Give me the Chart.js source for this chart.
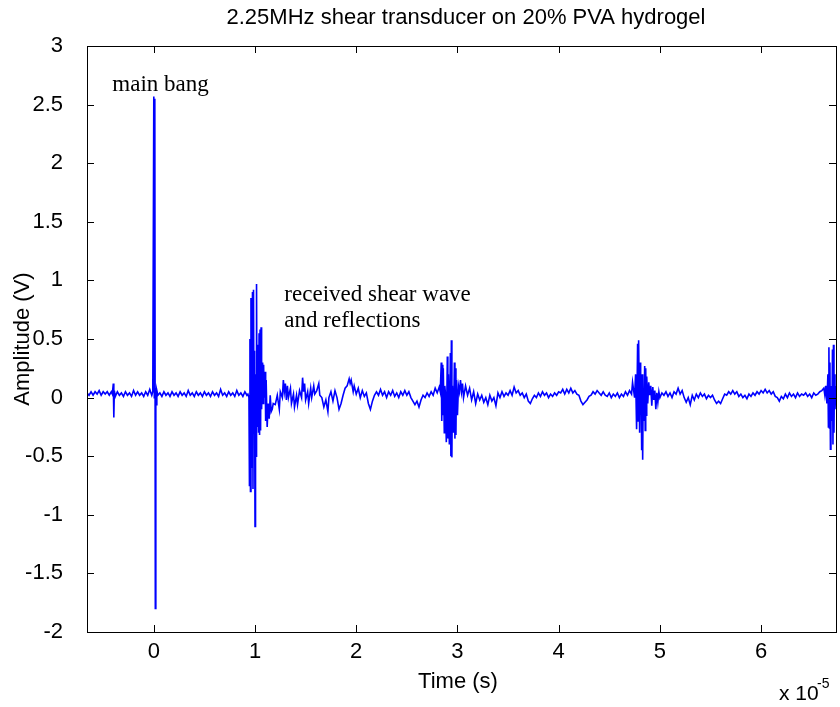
<!DOCTYPE html>
<html>
<head>
<meta charset="utf-8">
<script src="https://cdn.jsdelivr.net/npm/chart.js@4/dist/chart.umd.min.js"></script>
<style>
  body { margin: 0; background: #fff; }
  #chart { display: block; }
</style>
</head>
<body>
<canvas id="chart" width="840" height="707"></canvas>
<script>
// time in units of 1e-5 s, amplitude in V
const preTrigger = [
  [-0.66,0.04],[-0.64,0.02],[-0.62,0.05],[-0.60,0.02],[-0.58,0.05],[-0.56,0.03],[-0.54,0.06],[-0.52,0.02],
  [-0.50,0.05],[-0.48,0.03],[-0.46,0.05],[-0.44,0.02],[-0.42,0.05],[-0.41,0.03],[-0.40,0.12],[-0.395,-0.17],
  [-0.39,0.06],[-0.38,0.01],[-0.36,0.05],[-0.34,0.02],[-0.32,0.04],[-0.30,0.01],[-0.28,0.05],[-0.26,0.02],
  [-0.24,0.04],[-0.22,0.01],[-0.20,0.06],[-0.18,0.02],[-0.16,0.05],[-0.14,0.02],[-0.12,0.04],[-0.10,0.01],
  [-0.08,0.05],[-0.06,0.02],[-0.04,0.07],[-0.02,0.02]
];
const mainBang = [
  [-0.01,0.05],[0.0,2.57],[0.005,0.0],[0.01,2.55],[0.015,-1.8],[0.02,0.08],[0.025,-0.06],[0.03,0.06],[0.04,0.02]
];
const quietA = [
  [0.06,0.04],[0.08,0.01],[0.10,0.05],[0.12,0.02],[0.14,0.04],[0.16,0.01],[0.18,0.05],[0.20,0.02],
  [0.22,0.04],[0.24,0.01],[0.26,0.05],[0.28,0.02],[0.30,0.04],[0.32,0.01],[0.34,0.06],[0.36,0.02],
  [0.38,0.04],[0.40,0.01],[0.42,0.05],[0.44,0.02],[0.46,0.04],[0.48,0.01],[0.50,0.05],[0.52,0.02],
  [0.54,0.04],[0.56,0.01],[0.58,0.05],[0.60,0.02],[0.62,0.04],[0.64,0.01],[0.66,0.07],[0.68,0.02],
  [0.70,0.04],[0.72,0.01],[0.74,0.05],[0.76,0.02],[0.78,0.04],[0.80,0.01],[0.82,0.06],[0.84,0.02],
  [0.86,0.04],[0.88,0.01],[0.90,0.05],[0.92,0.02]
];
const echo1 = [
  [0.93,0.03],[0.94,0.0],[0.945,-0.75],[0.95,0.5],[0.955,-0.8],[0.96,0.85],[0.965,-0.6],[0.975,0.9],
  [0.98,-0.78],[0.985,0.92],[0.99,-0.3],[0.995,0.4],[1.0,-1.1],[1.005,0.2],[1.01,-0.5],[1.015,0.97],
  [1.02,-0.25],[1.03,0.45],[1.035,-0.3],[1.04,0.55],[1.045,-0.32],[1.05,0.58],[1.055,-0.28],[1.06,0.6],
  [1.065,-0.1],[1.075,0.3],[1.08,-0.05],[1.085,0.28],[1.09,0.0],[1.1,0.22],[1.105,-0.2],[1.11,0.15],
  [1.12,-0.25],[1.13,-0.05],[1.14,-0.18],[1.15,0.02],[1.16,-0.12],[1.17,-0.1],[1.18,-0.05]
];
const tail1 = [
  [1.20,-0.06],[1.22,0.02],[1.24,-0.1],[1.25,0.05],[1.27,0.0],[1.28,0.15],[1.29,0.05],[1.30,0.12],
  [1.31,-0.02],[1.32,0.1],[1.33,0.0],[1.35,0.08],[1.36,-0.05],[1.38,0.03],[1.39,-0.08],[1.41,0.02],
  [1.42,-0.06],[1.44,0.06],[1.46,0.0],[1.47,0.17],[1.48,0.05],[1.49,0.12],[1.50,-0.02],[1.52,0.05],
  [1.53,-0.05],[1.55,0.08],[1.56,0.0],[1.58,0.1],[1.59,0.03],[1.61,0.06],[1.63,0.12],[1.64,0.02],
  [1.66,0.0],[1.68,-0.08],[1.70,-0.02],[1.72,-0.12],[1.73,0.0],[1.75,0.05],[1.77,-0.03],[1.79,0.06],
  [1.81,0.0],[1.83,-0.1],[1.85,-0.05],[1.87,0.02],[1.89,0.08],[1.91,0.1],[1.93,0.16],[1.94,0.12],
  [1.95,0.15],[1.97,0.05],[1.98,0.1],[2.00,0.03],[2.02,0.08],[2.04,0.0],[2.06,0.06],[2.08,0.01],
  [2.10,0.04],[2.12,-0.05],[2.14,-0.1],[2.16,-0.03],[2.18,0.02],[2.20,0.05],[2.22,0.02],[2.24,0.07],
  [2.26,0.02],[2.28,0.05],[2.30,0.0],[2.32,0.05],[2.34,0.02],[2.36,0.06],[2.38,0.01],[2.40,0.04],
  [2.42,0.0],[2.44,0.05],[2.46,0.02],[2.48,0.06],[2.50,0.02],[2.52,0.05],[2.54,0.0],[2.56,-0.03],
  [2.58,-0.06],[2.60,-0.03],[2.62,-0.08],[2.64,-0.02],[2.66,0.02],[2.68,0.0],[2.70,0.04],[2.72,0.01],
  [2.74,0.05],[2.76,0.02],[2.78,0.08],[2.80,0.04],[2.82,0.09]
];
const echo2 = [
  [2.83,0.05],[2.84,0.3],[2.845,-0.2],[2.85,0.28],[2.855,-0.15],[2.86,0.25],[2.87,-0.3],[2.875,0.1],
  [2.88,0.05],[2.89,-0.38],[2.90,0.35],[2.905,-0.35],[2.91,0.2],[2.92,-0.4],[2.93,0.38],[2.935,-0.5],
  [2.94,0.49],[2.945,-0.51],[2.95,0.1],[2.96,-0.3],[2.97,0.3],[2.975,-0.35],[2.98,0.25],[2.985,-0.32],
  [2.99,0.15],[3.00,-0.15],[3.01,0.1],[3.02,0.05],[3.03,0.15],[3.04,0.05],[3.05,0.12],[3.06,0.0]
];
const tail2 = [
  [3.08,0.1],[3.10,0.02],[3.12,0.08],[3.14,-0.02],[3.16,0.05],[3.18,-0.05],[3.20,0.03],[3.22,-0.02],
  [3.24,0.02],[3.26,-0.04],[3.28,0.0],[3.30,-0.06],[3.32,0.02],[3.34,-0.03],[3.36,0.0],[3.38,-0.07],
  [3.40,0.04],[3.42,0.0],[3.44,0.05],[3.46,0.01],[3.48,0.04],[3.50,0.02],[3.52,0.06],[3.54,0.02],
  [3.56,0.09],[3.58,0.04],[3.60,0.06],[3.62,0.02],[3.64,0.04],[3.66,0.0],[3.68,0.03],[3.70,-0.03],
  [3.72,-0.05],[3.74,-0.01],[3.76,0.02],[3.78,0.0],[3.80,0.04],[3.82,0.01],[3.84,0.05],[3.86,0.02],
  [3.88,0.04],[3.90,0.0],[3.92,0.03],[3.94,0.01],[3.96,0.04],[3.98,0.02],[4.00,0.05],[4.02,0.04],
  [4.04,0.07],[4.06,0.03],[4.08,0.07],[4.10,0.04],[4.12,0.08],[4.14,0.04],[4.16,0.06],[4.18,0.03],
  [4.20,0.02],[4.22,-0.03],[4.24,-0.06],[4.26,-0.04],[4.28,-0.02],[4.30,0.01],[4.32,0.02],[4.34,0.05],
  [4.36,0.03],[4.38,0.06],[4.40,0.04],[4.42,0.02],[4.44,0.05],[4.46,0.02],[4.48,0.01],[4.50,0.04],
  [4.52,0.0],[4.54,0.03],[4.56,0.01],[4.58,0.04],[4.60,0.0],[4.62,0.03],[4.64,0.01],[4.66,0.05],
  [4.68,0.02],[4.70,0.06],[4.72,0.03]
];
const echo3 = [
  [4.73,0.13],[4.75,0.0],[4.76,0.2],[4.77,-0.27],[4.78,0.46],[4.785,-0.2],[4.79,0.49],[4.80,-0.3],
  [4.805,0.3],[4.81,-0.1],[4.815,0.1],[4.82,-0.45],[4.825,0.2],[4.83,-0.53],[4.835,0.05],[4.84,-0.2],
  [4.85,0.27],[4.855,-0.28],[4.86,0.25],[4.865,-0.15],[4.87,0.18],[4.88,-0.05],[4.89,0.13],[4.90,0.02],
  [4.91,0.1],[4.92,-0.07],[4.93,0.09],[4.94,-0.02],[4.95,0.06],[4.96,-0.1],[4.97,0.04],[4.98,-0.04],
  [4.99,0.05],[5.00,0.0],[5.02,0.04]
];
const tail3 = [
  [5.04,0.02],[5.06,0.05],[5.08,0.01],[5.10,0.04],[5.12,0.0],[5.14,0.05],[5.16,0.03],[5.18,0.08],
  [5.20,0.03],[5.22,0.06],[5.24,0.0],[5.26,-0.04],[5.28,0.0],[5.30,-0.06],[5.32,0.02],[5.34,-0.02],
  [5.36,0.03],[5.38,0.0],[5.40,0.04],[5.42,0.01],[5.44,0.03],[5.46,-0.01],[5.48,0.02],[5.50,0.0],
  [5.52,0.02],[5.54,-0.02],[5.56,-0.05],[5.58,-0.03],[5.60,-0.05],[5.62,-0.01],[5.64,0.03],[5.66,0.02],
  [5.68,0.05],[5.70,0.03],[5.72,0.06],[5.74,0.03],[5.76,0.05],[5.78,0.01],[5.80,0.03],[5.82,0.0],
  [5.84,0.02],[5.86,-0.01],[5.88,0.03],[5.90,0.01],[5.92,0.04],[5.94,0.02],[5.96,0.05],[5.98,0.03],
  [6.00,0.06],[6.02,0.04],[6.04,0.07],[6.06,0.04],[6.08,0.06],[6.10,0.03],[6.12,0.05],[6.14,0.01],
  [6.16,0.0],[6.18,-0.03],[6.20,0.01],[6.22,-0.01],[6.24,0.03],[6.26,0.0],[6.28,0.04],[6.30,0.01],
  [6.32,0.03],[6.34,0.0],[6.36,0.04],[6.38,0.01],[6.40,0.03],[6.42,0.02],[6.44,0.04],[6.46,0.01],
  [6.48,0.03],[6.50,0.0],[6.52,0.04],[6.54,0.02],[6.56,0.03],[6.58,0.05],[6.60,0.06]
];
const echo4 = [
  [6.62,0.08],[6.63,0.02],[6.64,0.1],[6.65,-0.05],[6.66,0.2],[6.665,-0.25],[6.67,0.43],[6.675,-0.26],
  [6.68,0.3],[6.685,-0.44],[6.69,0.1],[6.70,-0.2],[6.705,0.41],[6.71,-0.4],[6.715,0.45],[6.72,-0.3],
  [6.725,0.2],[6.73,-0.1],[6.74,0.1]
];

const xTicks = [0, 1, 2, 3, 4, 5, 6];
const yTicks = [-2, -1.5, -1, -0.5, 0, 0.5, 1, 1.5, 2, 2.5, 3];

const notes = [
  { text: 'main bang', t: -0.41, v: 2.67 },
  { text: 'received shear wave', t: 1.29, v: 0.88 },
  { text: 'and reflections', t: 1.29, v: 0.65 }
];

const trace = [].concat(preTrigger, mainBang, quietA, echo1, tail1, echo2, tail2, echo3, tail3, echo4)
  .map(p => ({ x: p[0], y: p[1] }));

const sans = "'Liberation Sans', Arial, sans-serif";

const frame = {
  id: 'frame',
  afterDraw(chart) {
    const ctx = chart.ctx;
    const a = chart.chartArea;
    const xs = chart.scales.x, ys = chart.scales.y;
    ctx.save();
    ctx.strokeStyle = '#000';
    ctx.lineWidth = 1;
    ctx.strokeRect(Math.round(a.left) + 0.5, Math.round(a.top) + 0.5,
      Math.round(a.right - a.left), Math.round(a.bottom - a.top));
    ctx.beginPath();
    xTicks.forEach(t => {
      const px = Math.round(xs.getPixelForValue(t)) + 0.5;
      ctx.moveTo(px, a.bottom); ctx.lineTo(px, a.bottom - 7);
      ctx.moveTo(px, a.top); ctx.lineTo(px, a.top + 7);
    });
    yTicks.forEach(v => {
      const py = Math.round(ys.getPixelForValue(v)) + 0.5;
      ctx.moveTo(a.left, py); ctx.lineTo(a.left + 7, py);
      ctx.moveTo(a.right, py); ctx.lineTo(a.right - 7, py);
    });
    ctx.stroke();

    ctx.fillStyle = '#000';
    ctx.font = '22px ' + sans;
    ctx.textAlign = 'center';
    ctx.textBaseline = 'middle';
    ctx.fillText('2.25MHz shear transducer on 20% PVA hydrogel', 466, 18);
    ctx.fillText('Time (s)', 458, 682);
    ctx.save();
    ctx.translate(23, (a.top + a.bottom) / 2);
    ctx.rotate(-Math.PI / 2);
    ctx.fillText('Amplitude (V)', 0, 0);
    ctx.restore();

    ctx.textAlign = 'left';
    ctx.textBaseline = 'alphabetic';
    ctx.font = '21px ' + sans;
    ctx.fillText('x 10', 779, 700);
    ctx.font = '14px ' + sans;
    ctx.fillText('-5', 817, 688);

    ctx.font = "23px 'Liberation Serif', 'Times New Roman', serif";
    ctx.textBaseline = 'middle';
    notes.forEach(n => {
      ctx.fillText(n.text, xs.getPixelForValue(n.t), ys.getPixelForValue(n.v));
    });
    ctx.restore();
  }
};

new Chart(document.getElementById('chart').getContext('2d'), {
  type: 'line',
  data: {
    datasets: [{
      data: trace,
      borderColor: '#0000ff',
      borderWidth: 1.6,
      pointRadius: 0,
      tension: 0,
      fill: false
    }]
  },
  options: {
    responsive: false,
    animation: false,
    layout: { padding: { top: 46, right: 4, left: 0, bottom: 0 } },
    plugins: { legend: { display: false }, tooltip: { enabled: false } },
    scales: {
      x: {
        type: 'linear',
        min: -0.66,
        max: 6.74,
        afterFit: s => { s.height = 75; },
        afterBuildTicks: s => { s.ticks = xTicks.map(v => ({ value: v })); },
        ticks: { color: '#000', font: { size: 22, family: sans }, padding: 7, callback: v => String(v), maxRotation: 0 },
        grid: { display: false, drawTicks: false },
        border: { display: false }
      },
      y: {
        min: -2,
        max: 3,
        afterFit: s => { s.width = 87; },
        afterBuildTicks: s => { s.ticks = yTicks.map(v => ({ value: v })); },
        ticks: { color: '#000', font: { size: 22, family: sans }, padding: 24, callback: v => String(v) },
        grid: { display: false, drawTicks: false },
        border: { display: false }
      }
    }
  },
  plugins: [frame]
});
</script>
</body>
</html>
